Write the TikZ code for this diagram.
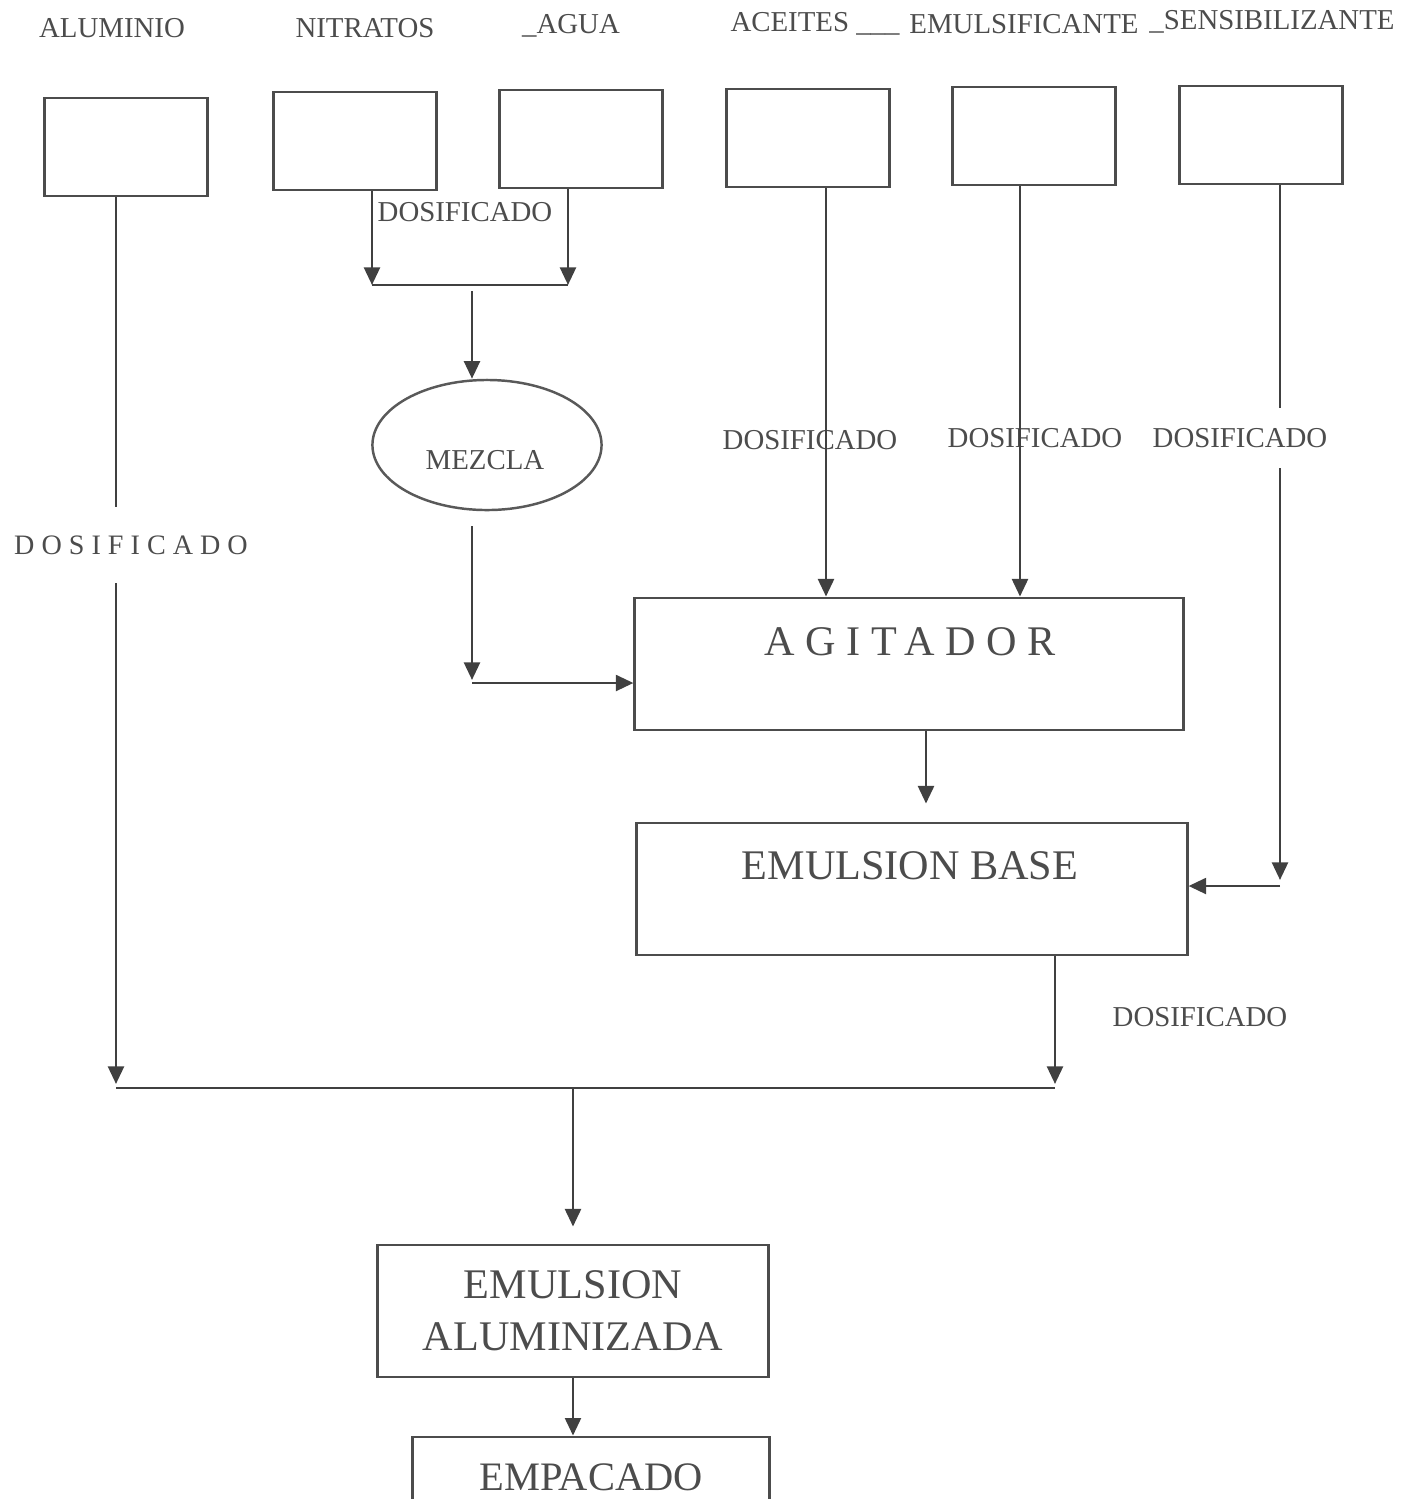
\documentclass[tikz,border=0pt]{standalone}
\usepackage{fontspec}
\setmainfont{Liberation Serif}
\newfontfamily\widefont[LetterSpace=25]{Liberation Serif}
\usetikzlibrary{arrows.meta, positioning, shapes.geometric, calc}

\begin{document}
\begin{tikzpicture}[x=0.01cm, y=-0.01cm,
  inbox/.style={draw=black!70, line width=0.8pt, minimum width=1.63cm,
                minimum height=0.98cm, inner sep=0pt},
  procbox/.style={draw=black!70, line width=0.8pt, inner sep=0pt},
  mixer/.style={ellipse, draw=black!65, line width=0.7pt, minimum width=2.29cm,
                minimum height=1.3cm, inner sep=0pt},
  tag/.style={font=\fontsize{8.2}{9.8}\selectfont, text=black!70, inner sep=1pt},
  bigtag/.style={font=\fontsize{12}{14.8}\selectfont, text=black!70},
  conn/.style={black!75, line width=0.8pt},
  flow/.style={conn, -{Triangle[width=4.5pt, length=5pt]}}
]
  \clip (0,0) rectangle (1416,1499);

  % raw material tanks
  \node[inbox] (alu)  at (126,147) {};
  \node[inbox] (nit)  at (355,141) {};
  \node[inbox] (agua) at (581,139) {};
  \node[inbox] (acei) at (808,138) {};
  \node[inbox] (emul) at (1034,136) {};
  \node[inbox] (sens) at (1261,135) {};

  % tank names
  \node[tag] (talu)  at (112,28)  {ALUMINIO};
  \node[tag] (tnit)  at (365,28)  {NITRATOS};
  \node[tag] (tagua) at (571,26)  {\_AGUA};
  \node[tag] (tacei) at (815,24)  {ACEITES \_\_\_};
  \node[tag] (temul) at (1024,24) {EMULSIFICANTE};
  \node[tag] (tsens) at (1272,22) {\_SENSIBILIZANTE};

  % process units
  \node[mixer] (mez) at (487,445) {};
  \node[tag] (tmez) at (485,460) {MEZCLA};
  \node[procbox, minimum width=5.48cm, minimum height=1.32cm] (agi) at (909,664) {};
  \node[bigtag, font=\widefont\fontsize{12}{14.8}\selectfont] (tagi) at (910,642) {AGITADOR};
  \node[procbox, minimum width=5.5cm, minimum height=1.32cm] (eb) at (912,889) {};
  \node[bigtag] (teb) at (910,866) {EMULSION BASE};
  \node[procbox, bigtag, align=center, minimum width=3.9cm, minimum height=1.32cm] (ea)
    at (573,1311) {EMULSION\\ALUMINIZADA};
  \node[procbox, minimum width=3.57cm, minimum height=0.8cm,
        font=\fontsize{11.5}{13}\selectfont, text=black!70] (emp) at (591,1477) {EMPACADO};

  % dosing labels
  \node[tag] (dmix) at (465,212) {DOSIFICADO};
  \node[tag, font=\widefont\fontsize{8}{9.6}\selectfont, inner ysep=0.28cm] (dalu) at (131,545) {DOSIFICADO};
  \node[tag] (dacei) at (810,440) {DOSIFICADO};
  \node[tag] (demul) at (1035,438) {DOSIFICADO};
  \node[tag, inner ysep=0.2cm] (dsens) at (1240,438) {DOSIFICADO};
  \node[tag] (dbase) at (1200,1017) {DOSIFICADO};

  % junction points
  \coordinate (jn) at (372,285);
  \coordinate (ja) at (568,285);
  \coordinate (jm) at (472,285);
  \coordinate (ma) at (472,683);
  \coordinate (sj) at (1280,886);
  \coordinate (jl) at (116,1088);
  \coordinate (jb) at (1055,1088);
  \coordinate (jc) at (573,1088);

  % nitratos + agua to mezcla
  \draw[flow] (nit.south -| jn) -- (jn);
  \draw[flow] (agua.south -| ja) -- (ja);
  \draw[conn] (jn) -- (ja);
  \draw[flow] ([yshift=-0.06cm]jm) -- (jm |- mez.north);

  % mezcla to agitador
  \draw[flow] ($(mez.south -| ma)+(0,15)$) -- ([yshift=0.03cm]ma);
  \draw[flow] (ma) -- (ma -| agi.west);

  % aceites, emulsificante
  \draw[flow] ([xshift=0.18cm]acei.south) -- ([xshift=0.18cm]acei.south |- agi.north);
  \draw[flow] ([xshift=-0.14cm]emul.south) -- ([xshift=-0.14cm]emul.south |- agi.north);

  % agitador to emulsion base
  \draw[flow] ([xshift=0.17cm]agi.south) -- ($([xshift=0.17cm]agi.south |- eb.north)+(0,-18)$);

  % sensibilizante
  \draw[conn] (sens.south -| sj) -- (dsens.north -| sj);
  \draw[flow] (dsens.south -| sj) -- ([yshift=0.06cm]sj);
  \draw[flow] (sj) -- (sj -| eb.east);

  % aluminio and base to emulsion aluminizada
  \draw[conn] (alu.south -| jl) -- (dalu.north -| jl);
  \draw[flow] (dalu.south -| jl) -- ([yshift=0.04cm]jl);
  \draw[flow] (eb.south -| jb) -- ([yshift=0.04cm]jb);
  \draw[conn] (jl) -- (jb);
  \draw[flow] (jc) -- ($(jc |- ea.north)+(0,-17)$);
  \draw[flow] (ea.south) -- (ea.south |- emp.north);
\end{tikzpicture}
\end{document}
